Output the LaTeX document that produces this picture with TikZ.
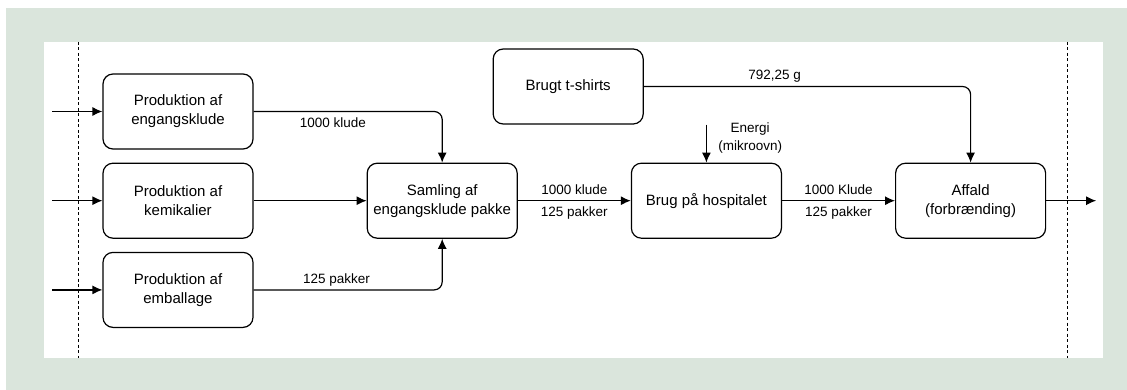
\documentclass[tikz,border=0pt]{standalone}
\usepackage{xcolor}
\usepackage{fontspec}
\setmainfont{Liberation Sans}
\usetikzlibrary{arrows.meta, positioning}

\definecolor{framegreen}{RGB}{218,229,220}

\tikzset{
    arrow/.style={-{Latex[length=10pt, width=9pt]}, line width=1.2pt}
}

\begin{document}
\begin{tikzpicture}[
    x=1pt, y=-1pt,
    node distance=13pt and 113pt,
    box/.style={rectangle, draw, rounded corners=10pt, line width=1.2pt, minimum width=150pt, minimum height=75pt, align=center, font=\fontsize{15}{19}\selectfont},
    lbl/.style={font=\fontsize{13.5}{18}\selectfont, align=center}
]

% Background and frame
\useasboundingbox (0,0) rectangle (1127,390);
\fill[framegreen] (6,8) rectangle (1127,390);
\fill[white] (44,42) rectangle (1103,358);

% System boundary
\draw[line width=1pt, dash pattern=on 3pt off 2.5pt] (78,42) -- (78,358);
\draw[line width=1pt, dash pattern=on 3pt off 2.5pt] (1067,42) -- (1067,358);

% Production
\node[box] (engang) at (178,111.5) {Produktion af\\engangsklude};
\node[box, below=of engang] (kemi) {Produktion af\\kemikalier};
\node[box, below=of kemi] (emball) {Produktion af\\emballage};

% Assembly
\node[box, right=of kemi] (samling) {Samling af\\engangsklude pakke};

% Use
\node[box, right=of samling] (hosp) {Brug på hospitalet};

% Waste
\node[box, right=of hosp] (affald) {Affald\\(forbrænding)};

% Used t-shirts
\node[box, above left=38pt and -13pt of hosp] (tshirt) {Brugt t-shirts};

% Free ends
\coordinate[left=50pt of engang.west] (inA);
\coordinate[left=50pt of kemi.west] (inB);
\coordinate[left=50pt of emball.west] (inC);
\coordinate[right=50pt of affald.east] (outA);
\coordinate[above=38pt of hosp.north] (energi);

% Arrows
\draw[arrow] (inA) -- (engang);
\draw[arrow] (inB) -- (kemi);
\draw[arrow] (inC) -- (emball);
\draw[arrow, rounded corners=8pt] (engang.east) -| (samling.north) node[lbl, pos=0.21, below, yshift=-2pt] {1000 klude};
\draw[arrow] (kemi) -- (samling);
\draw[arrow, rounded corners=8pt] (emball.east) -| (samling.south) node[lbl, pos=0.22, above] {125 pakker};
\draw[arrow] (samling) -- (hosp) node[lbl, midway, above, yshift=2pt] {1000 klude} node[lbl, midway, below, yshift=-2pt] {125 pakker};
\draw[arrow] (energi) -- (hosp) node[lbl, pos=0.35, right, xshift=8pt] {Energi\\(mikroovn)};
\draw[arrow] (hosp) -- (affald) node[lbl, midway, above, yshift=2pt] {1000 Klude} node[lbl, midway, below, yshift=-2pt] {125 pakker};
\draw[arrow, rounded corners=8pt] (tshirt.east) -| (affald.north) node[lbl, pos=0.2, above] {792,25 g};
\draw[arrow] (affald) -- (outA);

\end{tikzpicture}
\end{document}
